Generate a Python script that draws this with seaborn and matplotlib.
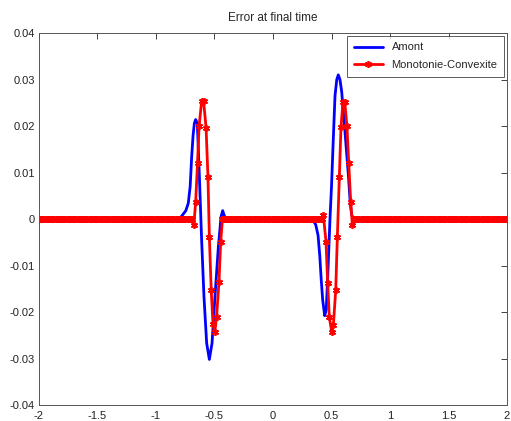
import matplotlib
matplotlib.use('Agg')
import matplotlib.pyplot as plt
import seaborn as sns
import numpy as np
import pandas as pd

# values
amont_x = [-2.0, -0.80, -0.772, -0.745, -0.724, -0.708, -0.695, -0.683, -0.672, -0.661,
           -0.647, -0.630, -0.610, -0.590, -0.567, -0.544, -0.521, -0.496, -0.467, -0.444,
           -0.430, -0.419, -0.402,
           0.300, 0.339, 0.365, 0.385, 0.400, 0.412, 0.425, 0.442, 0.455, 0.470,
           0.487, 0.500, 0.515, 0.530, 0.545, 0.558, 0.572, 0.587, 0.615, 0.644,
           0.660, 0.672, 0.690, 2.0]
amont_y = [0.0, 0.0, 0.0009, 0.0018, 0.0034, 0.0070, 0.0134, 0.0180, 0.0206, 0.0214,
           0.0206, 0.0098, -0.0045, -0.0167, -0.0267, -0.0302, -0.0267, -0.0167, -0.0060, 0.0005,
           0.0018, 0.0009, 0.0,
           0.0, -0.0002, -0.0012, -0.0035, -0.0080, -0.0130, -0.0175, -0.0208, -0.0195, -0.0110,
           0.0, 0.0070, 0.0170, 0.0265, 0.0300, 0.0310, 0.0300, 0.0274, 0.0188, 0.0095,
           0.0035, 0.0009, 0.0, 0.0]

mc_left_x = [-0.676, -0.661, -0.645, -0.632, -0.610, -0.593, -0.572, -0.556, -0.544,
             -0.528, -0.513, -0.498, -0.482, -0.462, -0.447]
mc_left_y = [-0.0012, 0.0037, 0.0120, 0.0199, 0.0253, 0.0253, 0.0196, 0.0091, -0.0038,
             -0.0153, -0.0226, -0.0244, -0.0210, -0.0136, -0.0049]
mc_right_x = [0.430, 0.453, 0.467, 0.481, 0.502, 0.516, 0.536, 0.550, 0.567, 0.581,
              0.598, 0.613, 0.632, 0.647, 0.664, 0.678]
mc_right_y = [0.0009, -0.0049, -0.0137, -0.0210, -0.0244, -0.0228, -0.0153, -0.0038, 0.0091, 0.0197,
              0.0252, 0.0252, 0.0200, 0.0120, 0.0037, -0.0012]
# flat (zero error) stretches of the marked curve
flat1_x = np.linspace(-2.0, -0.692, 140)
flat2_x = np.linspace(-0.432, 0.416, 90)
flat3_x = np.linspace(0.692, 2.0, 140)

xticks = [-2, -1.5, -1, -0.5, 0, 0.5, 1, 1.5, 2]
xtick_labels = ['-2', '-1.5', '-1', '-0.5', '0', '0.5', '1', '1.5', '2']
yticks = [-0.04, -0.03, -0.02, -0.01, 0, 0.01, 0.02, 0.03, 0.04]
ytick_labels = ['-0.04', '-0.03', '-0.02', '-0.01', '0', '0.01', '0.02', '0.03', '0.04']

mc_x = list(flat1_x) + mc_left_x + list(flat2_x) + mc_right_x + list(flat3_x)
mc_y = [0.0] * len(flat1_x) + mc_left_y + [0.0] * len(flat2_x) + mc_right_y + [0.0] * len(flat3_x)

df_amont = pd.DataFrame({'x': amont_x, 'err': amont_y})
df_mc = pd.DataFrame({'x': mc_x, 'err': mc_y})

sns.set_style('white')
plt.rcParams['font.family'] = ['Liberation Sans', 'DejaVu Sans']

fig = plt.figure(figsize=(5.11, 4.21), dpi=100)
ax = fig.add_axes([0.0763, 0.038, 0.9159, 0.8836])

sns.lineplot(data=df_amont, x='x', y='err', color='#0000ff', lw=2.0,
             estimator=None, sort=False, label='Amont', ax=ax)
sns.lineplot(data=df_mc, x='x', y='err', color='#ff0000', lw=2.0,
             marker=(6, 2, 0), markersize=5, markeredgewidth=1.2,
             markeredgecolor='#ff0000', estimator=None, sort=False,
             label='Monotonie-Convexite', ax=ax)

ax.set_xlim(-2, 2)
ax.set_ylim(-0.04, 0.04)
ax.set_xticks(xticks)
ax.set_xticklabels(xtick_labels)
ax.set_yticks(yticks)
ax.set_yticklabels(ytick_labels)
ax.tick_params(direction='in', length=4, width=0.6, top=True, right=True,
               labelsize=8, colors='#222222', pad=3)
ax.tick_params(axis='x', pad=4)
for s in ax.spines.values():
    s.set_color('#555555')
    s.set_linewidth(0.7)
ax.set_xlabel('')
ax.set_ylabel('')
ax.set_title('Error at final time', fontsize=8.5, pad=9)

leg = ax.legend(loc='upper right', fontsize=8, frameon=True, fancybox=False,
                handlelength=2.6, borderaxespad=0.25, borderpad=0.6, labelspacing=0.7)
leg.get_frame().set_edgecolor('#333333')
leg.get_frame().set_linewidth(0.7)

fig.savefig('out.png', dpi=100)
